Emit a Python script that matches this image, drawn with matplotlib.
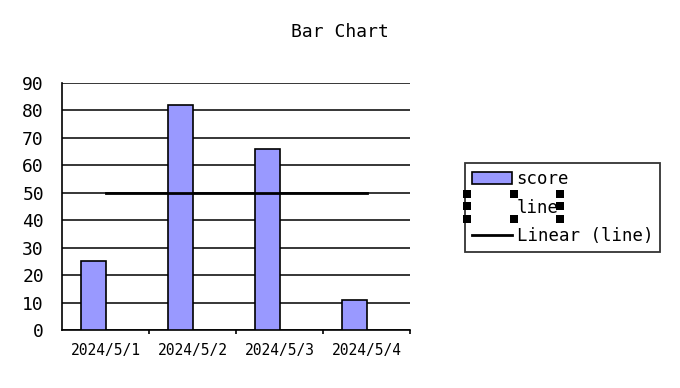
import matplotlib
matplotlib.use("Agg")
import matplotlib.pyplot as plt
import numpy as np
from matplotlib.patches import Patch, Rectangle
from matplotlib.lines import Line2D

# data
categories = ["2024/5/1", "2024/5/2", "2024/5/3", "2024/5/4"]
score = [25, 82, 66, 11]
line = [50, 50, 50, 50]
y_ticks = [0, 10, 20, 30, 40, 50, 60, 70, 80, 90]

plt.rcParams["font.family"] = ["DejaVu Sans Mono"]

W, H = 680, 388
fig = plt.figure(figsize=(W / 100, H / 100), dpi=100)
ax = fig.add_axes([62 / W, 1 - 330 / H, 348 / W, 247 / H])

x = np.arange(len(categories))
w = 0.287
ax.bar(x - w / 2, score, width=w, color="#9999FF", edgecolor="black", linewidth=1.2, zorder=3)
# "line" series has no fill and no border
ax.bar(x + w / 2, line, width=w, color="none", edgecolor="none", zorder=3)

# linear trendline of the "line" series
coef = np.polyfit(x, line, 1)
ax.plot(x, np.polyval(coef, x), color="black", linewidth=2, zorder=4)

ax.set_xlim(-0.5, len(categories) - 0.5)
ax.set_ylim(0, 90)
ax.set_yticks(y_ticks)
ax.set_yticklabels([str(t) for t in y_ticks], fontsize=13)
ax.tick_params(axis="y", length=0, pad=13)
ax.yaxis.grid(True, color="black", linewidth=1.1, zorder=0)

ax.set_xticks(x)
ax.set_xticklabels(categories, fontsize=10.5)
ax.set_xticks(np.arange(len(categories)) + 0.5, minor=True)
ax.tick_params(axis="x", which="major", length=0, pad=9)
ax.tick_params(axis="x", which="minor", length=3, width=1.2, direction="out")

for s in ["top", "right"]:
    ax.spines[s].set_visible(False)
for s in ["left", "bottom"]:
    ax.spines[s].set_linewidth(1.2)

fig.text(340 / W, 1 - 32 / H, "Bar Chart", ha="center", va="center", fontsize=13)

handles = [
    Patch(facecolor="#9999FF", edgecolor="black", linewidth=1.2),
    Patch(facecolor="none", edgecolor="none"),
    Line2D([0], [0], color="black", linewidth=2),
]
leg = fig.legend(handles, ["score", "line", "Linear (line)"], loc="upper left",
                 bbox_to_anchor=(465 / W, 1 - 163 / H), fontsize=12.5,
                 frameon=True, fancybox=False, borderpad=0.42, handlelength=2.3,
                 handletextpad=0.25, labelspacing=0.6, borderaxespad=0)
leg.get_frame().set_edgecolor("black")
leg.get_frame().set_linewidth(1.3)

# selection handles around the "line" legend entry (as in the screenshot)
for hx, hy in [(463, 190), (463, 202), (463, 215), (510, 190), (510, 215),
               (556, 190), (556, 202), (556, 215)]:
    fig.add_artist(Rectangle((hx / W, 1 - (hy + 8) / H), 8 / W, 8 / H,
                             transform=fig.transFigure, facecolor="black",
                             edgecolor="none", zorder=10))

fig.savefig("out.png", dpi=100)
